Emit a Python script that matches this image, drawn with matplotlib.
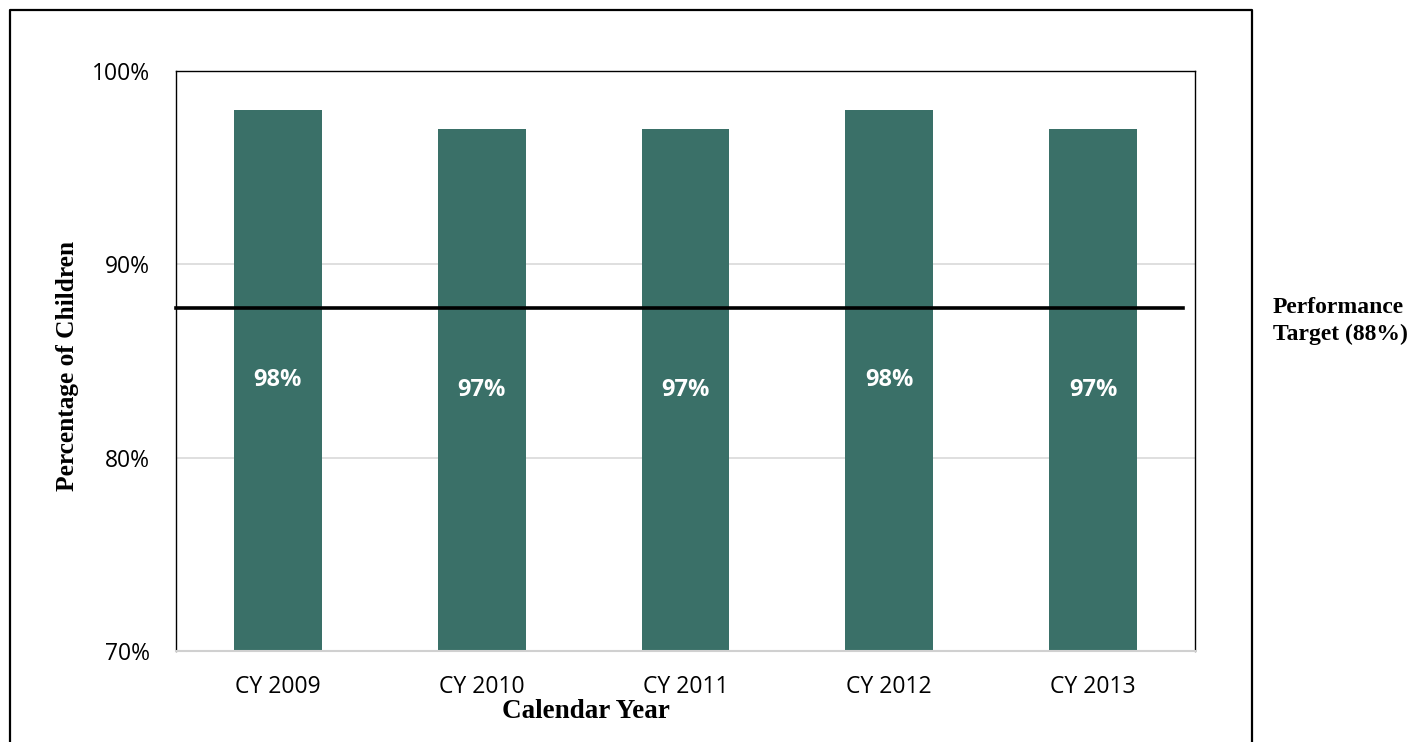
import matplotlib.pyplot as plt
from matplotlib.lines import Line2D

years = ['CY 2009', 'CY 2010', 'CY 2011', 'CY 2012', 'CY 2013']
values = [98, 97, 97, 98, 97]
target = 87.75
target_label = 'Performance\nTarget (88%)'

W, H = 1414, 742
fig = plt.figure(figsize=(W / 100, H / 100), dpi=100)
# axes placed in pixel terms
ax = fig.add_axes([176 / W, 1 - 651 / H, (1195 - 176) / W, (651 - 71) / H])

x = range(len(years))
ax.bar(x, values, width=0.43, bottom=0, color='#3A7068', zorder=2)
ax.set_ylim(70, 100)
ax.set_xlim(-0.5, len(years) - 0.5)

for i, v in enumerate(values):
    ax.text(i, (70 + v) / 2, f'{v}%', color='white', fontsize=17, fontweight='bold',
            family='Open Sans', ha='center', va='center', zorder=3)

ax.set_yticks([70, 80, 90, 100])
ax.set_yticklabels(['70%', '80%', '90%', '100%'])
ax.set_xticks(list(x))
ax.set_xticklabels(years)
ax.tick_params(length=0, labelsize=16.5)
ax.tick_params(axis='y', pad=18.5)
ax.tick_params(axis='x', pad=17)
for lbl in ax.get_xticklabels() + ax.get_yticklabels():
    lbl.set_family('Open Sans')
ax.grid(axis='y', color='#D9D9D9', linewidth=1.2, zorder=0)
ax.set_axisbelow(True)
for s in ['left', 'top', 'right']:
    ax.spines[s].set_color('black')
    ax.spines[s].set_linewidth(1.0)
ax.spines['bottom'].set_color('#D0D0D0')
ax.spines['bottom'].set_linewidth(1.5)

# target line
ax.plot([-0.5, 4.44], [target, target], color='black', linewidth=2.6, zorder=4,
        clip_on=False)

ax.set_ylabel('Percentage of Children', family='Liberation Serif', fontweight='bold',
              fontsize=18.3, va='center')
ax.yaxis.set_label_coords(-0.106, 0.491)
ax.set_xlabel('Calendar Year', family='Liberation Serif', fontweight='bold',
              fontsize=19.5, va='center')
ax.xaxis.set_label_coords(0.402, -0.105)

fig.text(1273 / W, 1 - 321 / H, target_label, family='Liberation Serif',
         fontweight='bold', fontsize=17, ha='left', va='center', linespacing=1.4)

# outer frame (open at the bottom)
fx = [10 / W, 10 / W, 1252 / W, 1252 / W]
fy = [0, 1 - 10 / H, 1 - 10 / H, 0]
fig.add_artist(Line2D(fx, fy, color='black', linewidth=1.6, transform=fig.transFigure))

fig.savefig('out.png', dpi=100)
